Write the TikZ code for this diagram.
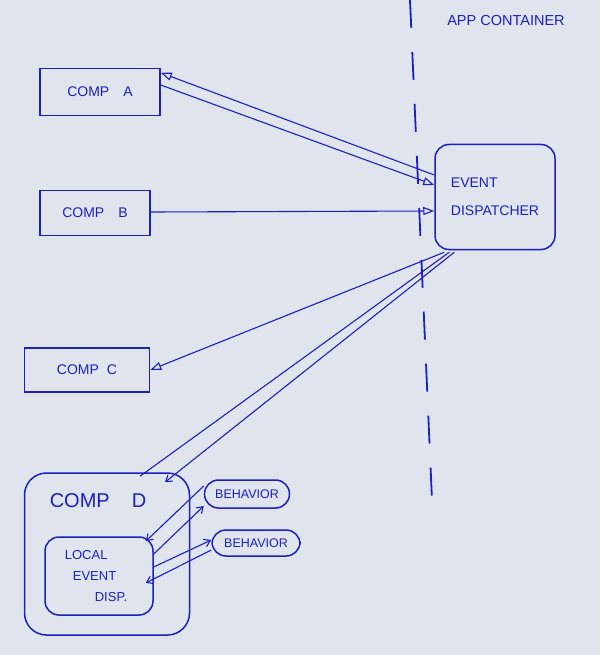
\documentclass[tikz,border=0pt]{standalone}
\usepackage{fontspec}
\setmainfont{Liberation Sans}
\usetikzlibrary{arrows.meta,calc}
\definecolor{ink}{RGB}{30,30,195}
\definecolor{paper}{RGB}{224,229,237}
\begin{document}
\begin{tikzpicture}[x=1pt,y=-1pt,
  ink/.style={draw=ink,line width=1.5pt},
  box/.style={ink,rectangle,text=ink,font=\fontsize{14}{16}\selectfont,inner sep=0pt},
  rbox/.style={box,rounded corners=14pt},
  lbl/.style={text=ink,inner sep=0pt},
  bigarrow/.style={ink,line width=1.1pt,-{Triangle[open,length=11pt,width=8pt]}},
  smallarrow/.style={ink,line width=1.1pt,-{Straight Barb[length=6pt,width=8pt]}}]
\fill[paper] (0,0) rectangle (600,655);
\useasboundingbox (0,0) rectangle (600,655);
% container boundary
\coordinate (ct) at (410,0);
\coordinate (cb) at (432,500);
\draw[ink,line width=1.8pt,dash pattern=on 28pt off 24pt] (ct) -- (cb);
\node[lbl,font=\fontsize{14.5}{16}\selectfont] (app) at (506,21) {APP CONTAINER};
% nodes
\node[box,draw,minimum width=120pt,minimum height=47pt] (A) at (100,92) {COMP\hspace{14pt}A};
\node[box,draw,minimum width=110pt,minimum height=45pt] (B) at (95,213) {COMP\hspace{14pt}B};
\node[box,draw,minimum width=125pt,minimum height=44pt] (C) at (87,370) {COMP\hspace{8pt}C};
\node[rbox,draw,minimum width=120pt,minimum height=105pt,align=left,font=\fontsize{14}{28}\selectfont] (E) at (495,197) {EVENT\\DISPATCHER};
\node[rbox,draw,rounded corners=22pt,minimum width=165pt,minimum height=162pt] (D) at (107,554) {};
\node[lbl,font=\fontsize{20}{22}\selectfont] (Dt) at (98,501) {COMP\hspace{22pt}D};
\node[rbox,draw,rounded corners=14pt,minimum width=108pt,minimum height=78pt] (L) at (99,576) {};
\node[lbl,font=\fontsize{13}{21}\selectfont,align=left] (Lt) at (96,576) {LOCAL\\\hspace{8pt}EVENT\\\hspace{30pt}DISP.};
\node[rbox,draw,minimum width=85pt,minimum height=28pt,font=\fontsize{12.5}{14}\selectfont] (H1) at (247,494) {BEHAVIOR};
\node[rbox,draw,minimum width=88pt,minimum height=26pt,font=\fontsize{12.5}{14}\selectfont] (H2) at (256,543) {BEHAVIOR};
% connectors
\draw[bigarrow] ($(E.west)+(0,-22)$) -- ($(A.north east)+(0,5)$);
\draw[bigarrow] ($(A.east)+(0,-7)$) -- ($(E.west)+(0,-12)$);
\draw[bigarrow] ($(B.east)+(0,-1)$) -- ($(E.west)+(0,14)$);
\draw[bigarrow] ($(E.south west)+(10,2)$) -- (C.east);
\draw[ink,line width=1.1pt] ($(D.north)+(33,4)$) -- ($(E.south west)+(15,2)$);
\draw[smallarrow] ($(E.south west)+(20,2)$) -- ($(D.north)+(58,10)$);
\draw[smallarrow] ($(H1.west)+(0,-8)$) -- ($(L.north east)+(-8,5)$);
\draw[smallarrow] ($(L.east)+(0,-22)$) -- ($(H1.west)+(0,12)$);
\draw[smallarrow] ($(L.east)+(0,-9)$) -- ($(H2.west)+(0,-3)$);
\draw[smallarrow] ($(H2.west)+(0,7)$) -- ($(L.east)+(-8,7)$);
\end{tikzpicture}
\end{document}
